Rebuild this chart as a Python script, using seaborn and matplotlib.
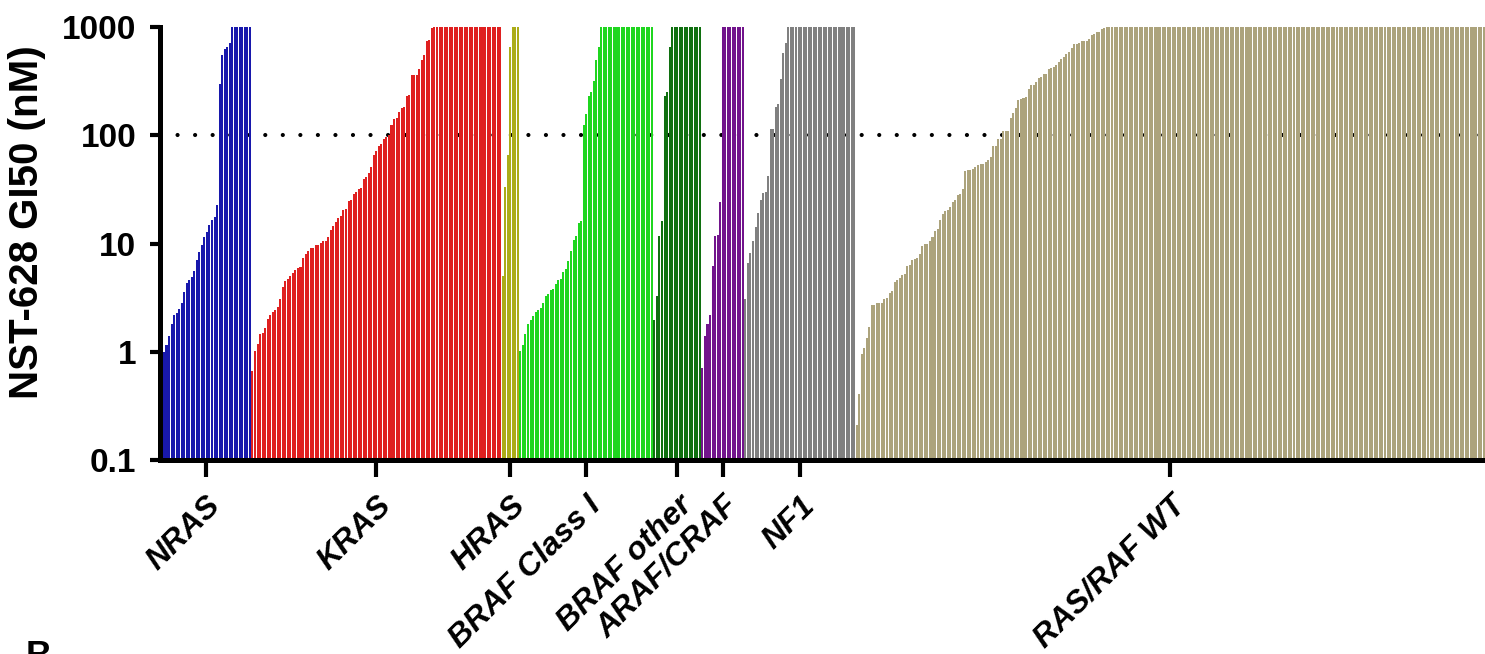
import seaborn as sns
import matplotlib.pyplot as plt
import pandas as pd

# GI50 values (nM) per genotype group, sorted as in the waterfall
groups = ["NRAS", "KRAS", "HRAS", "BRAF Class I", "BRAF other", "ARAF/CRAF", "NF1", "RAS/RAF WT"]
colors = ["#0000C4", "#FF0000", "#C4C400", "#00F400", "#008000", "#7E00A0", "#808080", "#B4A874"]

nras = [0.5, 1.0, 1.15, 1.4, 1.8, 2.2, 2.3, 2.5, 2.8, 3.6, 4.3, 4.6, 4.9, 5.6, 7.0, 8.4,
        9.7, 11.5, 12.8, 14.9, 16.5, 17.6, 22.8, 300, 550, 620, 650, 710] + [1000] * 8
kras = [0.67, 1.02, 1.19, 1.47, 1.5, 1.66, 2.0, 2.2, 2.35, 2.45, 2.6, 3.1, 4.0, 4.5, 4.7,
        5.0, 5.35, 5.7, 6.0, 6.1, 7.4, 8.0, 8.6, 9.1, 9.1, 9.7, 9.7, 10.1, 10.6, 10.6,
        11.5, 13.4, 14.6, 15.9, 17.3, 18.0, 20.5, 21, 24.8, 25.3, 28.9, 30, 32, 32.7,
        39.6, 41.2, 45, 51, 66, 72, 79, 83, 92, 96, 100, 125, 142, 145, 165, 180, 183,
        230, 237, 360, 360, 360, 410, 500, 550, 740, 760, 980] + [1000] * 27
hras = [5.0, 33, 66, 650, 1000, 1000, 1000]
braf_1 = [1.02, 1.16, 1.47, 1.8, 1.97, 2.15, 2.35, 2.45, 2.55, 2.85, 3.3, 3.4, 3.75, 3.8,
          4.2, 4.6, 4.7, 5.5, 5.85, 6.9, 8.6, 10.8, 11.8, 15.5, 16.2, 125, 158, 230, 250,
          320, 500, 650] + [1000] * 21
braf_other = [1.97, 3.3, 11.8, 16.2, 230, 250, 650] + [1000] * 12
araf_craf = [0.71, 1.4, 1.8, 2.2, 6.2, 11.8, 12.0, 24.3] + [1000] * 9
nf1 = [3.1, 6.6, 8.2, 10.6, 14.2, 19.2, 25.3, 29.4, 30, 42, 114, 114, 183, 195, 330,
       580, 710] + [1000] * 27
wt = [0.21, 0.41, 0.96, 1.09, 1.35, 1.7, 2.7, 2.7, 2.85, 2.85, 2.85, 3.1, 3.15, 3.5, 3.65,
      4.4, 4.6, 4.8, 5.15, 5.25, 6.2, 6.35, 7.1, 7.2, 7.4, 8.0, 9.5, 10, 10, 10.6, 11.5,
      13.1, 13.7, 16.6, 18.8, 20, 20.5, 21.9, 24.3, 25.3, 28.2, 28.9, 32, 47, 48, 48, 49,
      51, 53, 54, 54, 57, 59, 63, 80, 80, 92, 92, 110, 110, 110, 145, 160, 180, 210, 215,
      220, 226, 265, 290, 290, 310, 340, 345, 370, 370, 410, 420, 430, 445, 475, 510, 525,
      560, 590, 640, 690, 690, 710, 740, 740, 740, 780, 850, 870, 900, 900, 950, 970] + [1000] * 150

series = [nras, kras, hras, braf_1, braf_other, araf_craf, nf1, wt]

rows = []
centers = []
for name, vals in zip(groups, series):
    start = len(rows)
    for v in vals:
        rows.append({"idx": len(rows), "gi50": v, "group": name})
    centers.append(start + (len(vals) - 1) / 2)
data = pd.DataFrame(rows)
n = len(data)

sns.set_style("ticks")
plt.rcParams["font.family"] = ["Liberation Sans", "DejaVu Sans"]
plt.rcParams["text.color"] = "black"
plt.rcParams["axes.labelcolor"] = "black"
plt.rcParams["axes.edgecolor"] = "black"
plt.rcParams["xtick.color"] = "black"
plt.rcParams["ytick.color"] = "black"

fig = plt.figure(figsize=(14.85, 6.54), dpi=100)
ax = fig.add_axes([0.1077, 0.2966, 0.8923, 0.6621])

sns.barplot(data=data, x="idx", y="gi50", hue="group", hue_order=groups,
            palette=colors, dodge=False, width=0.8, errorbar=None,
            legend=False, linewidth=0, ax=ax)
ax.set_yscale("log")

ax.axhline(100, color="black", lw=3.0, ls=(0, (0.01, 4.2)), dash_capstyle="round", zorder=0.5)

ax.set_ylim(0.1, 1000)
ax.set_xlim(-0.6, n - 0.45)
ax.set_yticks([0.1, 1, 10, 100, 1000])
ax.set_yticklabels(["0.1", "1", "10", "100", "1000"], fontsize=24, fontweight="bold")
ax.yaxis.set_minor_locator(plt.NullLocator())

ax.set_xticks(centers)
ax.set_xticklabels(groups, rotation=45, ha="right", va="top", rotation_mode="anchor",
                   fontsize=23, fontweight="bold", fontstyle="italic")

ax.set_xlabel("")
ax.set_ylabel("NST-628 GI50 (nM)", fontsize=29, fontweight="bold")
ax.yaxis.set_label_coords(-0.086, 0.55)

for side in ["top", "right"]:
    ax.spines[side].set_visible(False)
for side in ["left", "bottom"]:
    ax.spines[side].set_linewidth(3.6)
ax.tick_params(axis="y", length=7, width=3, pad=10)
ax.tick_params(axis="x", length=12, width=3, pad=10)

fig.text(0.017, 0.021, "B", fontsize=26, fontweight="bold", va="top")

plt.savefig("out.png", dpi=100)
